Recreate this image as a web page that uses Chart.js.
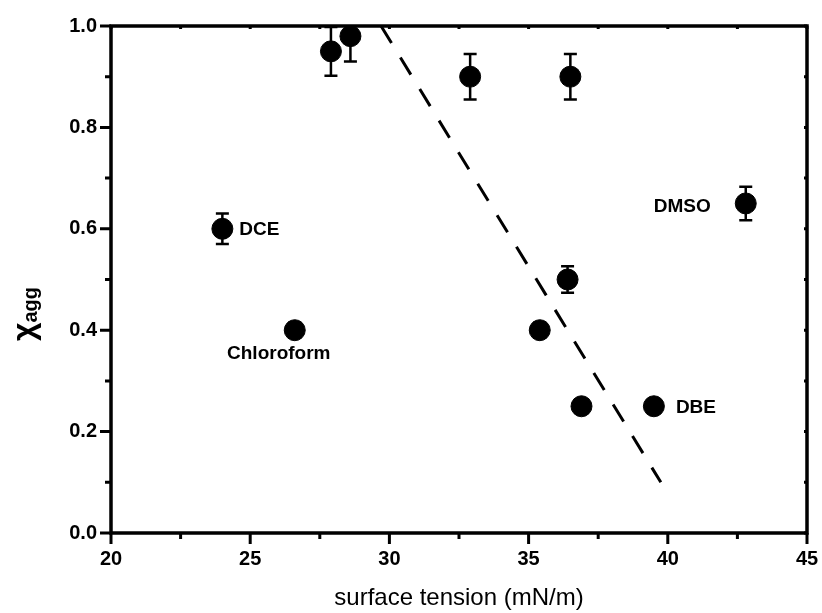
<!DOCTYPE html>
<html>
<head>
<meta charset="utf-8">
<script src="https://cdn.jsdelivr.net/npm/chart.js@4"></script>
<style>
  body { margin: 0; background: #fff; }
  #wrap { width: 822px; height: 613px; }
</style>
</head>
<body>
<div id="wrap"><canvas id="myChart"></canvas></div>
<script>
// measured points: surface tension vs chi_agg
const tension = [24.0, 26.6, 27.9, 28.6, 32.9, 36.5, 36.4, 35.4, 36.9, 39.5, 42.8];
const chiAgg = [0.60, 0.40, 0.95, 0.98, 0.90, 0.90, 0.50, 0.40, 0.25, 0.25, 0.65];
const chiErr = [0.03, 0.015, 0.048, 0.05, 0.045, 0.045, 0.026, 0.015, 0.008, 0.008, 0.033];
const solvent = ['DCE', 'Chloroform', '', '', '', '', '', '', '', 'DBE', 'DMSO'];

// dashed guide line
const guideX = [29.7, 39.75];
const guideY = [1.0, 0.1];

const xTickLabels = [20, 25, 30, 35, 40, 45];
const yTickLabels = ['0.0', '0.2', '0.4', '0.6', '0.8', '1.0'];

const font = "'Liberation Sans', Arial, sans-serif";

// label placement (pixel offsets from the marker)
const labelPos = {
    'DCE': { dx: 17, dy: 1, align: 'left' },
    'Chloroform': { dx: -16, dy: 24, align: 'center' },
    'DBE': { dx: 22, dy: 2, align: 'left' },
    'DMSO': { dx: -35, dy: 3, align: 'right' }
};

const framePlugin = {
    id: 'frame',
    afterDatasetsDraw(chart) {
        const ctx = chart.ctx;
        const area = chart.chartArea;
        const ys = chart.scales.y;
        const meta = chart.getDatasetMeta(0);

        // error bars
        ctx.save();
        ctx.beginPath();
        ctx.rect(area.left, area.top - 1, area.right - area.left, area.bottom - area.top + 1);
        ctx.clip();
        ctx.strokeStyle = '#000';
        ctx.lineWidth = 2.5;
        meta.data.forEach((pt, i) => {
            const yTop = ys.getPixelForValue(chiAgg[i] + chiErr[i]);
            const yBot = ys.getPixelForValue(chiAgg[i] - chiErr[i]);
            ctx.beginPath();
            ctx.moveTo(pt.x, yTop);
            ctx.lineTo(pt.x, yBot);
            ctx.moveTo(pt.x - 6.5, yTop);
            ctx.lineTo(pt.x + 6.5, yTop);
            ctx.moveTo(pt.x - 6.5, yBot);
            ctx.lineTo(pt.x + 6.5, yBot);
            ctx.stroke();
        });
        ctx.restore();

        // solvent labels
        ctx.save();
        ctx.fillStyle = '#000';
        ctx.font = 'bold 19px ' + font;
        ctx.textBaseline = 'middle';
        meta.data.forEach((pt, i) => {
            const name = solvent[i];
            if (!name) return;
            const p = labelPos[name];
            ctx.textAlign = p.align;
            ctx.fillText(name, pt.x + p.dx, pt.y + p.dy);
        });
        ctx.restore();
    },
    afterDraw(chart) {
        const ctx = chart.ctx;
        const area = chart.chartArea;
        const xs = chart.scales.x;
        const ys = chart.scales.y;
        ctx.save();
        ctx.strokeStyle = '#000';
        ctx.lineWidth = 3.5;
        ctx.lineCap = 'square';
        ctx.beginPath();
        ctx.moveTo(area.left, area.top);
        ctx.lineTo(area.right, area.top);
        ctx.lineTo(area.right, area.bottom);
        ctx.moveTo(area.left, area.top);
        ctx.lineTo(area.left, area.bottom);
        ctx.lineTo(area.right, area.bottom);
        ctx.stroke();

        // outward ticks, major longer than minor
        ctx.lineCap = 'butt';
        ctx.lineWidth = 3;
        ctx.beginPath();
        xs.ticks.forEach(t => {
            const px = xs.getPixelForValue(t.value);
            const major = Math.abs(t.value / 5 - Math.round(t.value / 5)) < 1e-6;
            ctx.moveTo(px, area.bottom);
            ctx.lineTo(px, area.bottom + (major ? 11 : 6));
            ctx.moveTo(px, area.top);
            ctx.lineTo(px, area.top + 3);
        });
        ys.ticks.forEach(t => {
            const py = ys.getPixelForValue(t.value);
            const major = Math.round(t.value * 10) % 2 === 0;
            ctx.moveTo(area.left, py);
            ctx.lineTo(area.left - (major ? 11 : 6), py);
            ctx.moveTo(area.right, py);
            ctx.lineTo(area.right - 3, py);
        });
        ctx.stroke();

        // y title: chi with subscript agg
        ctx.fillStyle = '#000';
        ctx.translate(34, 341);
        ctx.rotate(-Math.PI / 2);
        ctx.textAlign = 'left';
        ctx.textBaseline = 'alphabetic';
        ctx.font = 'bold 32px ' + font;
        ctx.fillText('χ', 0, 0);
        const w = ctx.measureText('χ').width;
        ctx.font = 'bold 20px ' + font;
        ctx.fillText('agg', w, 3);
        ctx.restore();
    }
};

const ctx = document.getElementById('myChart').getContext('2d');
const myChart = new Chart(ctx, {
    type: 'scatter',
    data: {
        datasets: [{
            label: 'chi_agg',
            data: tension.map((x, i) => ({ x: x, y: chiAgg[i] })),
            backgroundColor: '#000',
            borderColor: '#000',
            pointRadius: 10.5,
            pointHoverRadius: 10.5,
            order: 1
        }, {
            label: 'guide',
            data: guideX.map((x, i) => ({ x: x, y: guideY[i] })),
            showLine: true,
            borderColor: '#000',
            borderWidth: 3,
            borderDash: [20, 17],
            pointRadius: 0,
            fill: false,
            clip: false,
            order: 2
        }]
    },
    options: {
        responsive: true,
        maintainAspectRatio: false,
        animation: false,
        layout: {
            padding: { top: 24, right: 15, left: 0, bottom: 0 }
        },
        scales: {
            x: {
                type: 'linear',
                min: 20,
                max: 45,
                afterFit: s => { s.height = 80; s.paddingRight = 15; s.paddingLeft = 0; },
                ticks: {
                    stepSize: 2.5,
                    color: '#000',
                    padding: 14,
                    maxRotation: 0,
                    autoSkip: false,
                    font: { family: font, size: 20, weight: 'bold' },
                    callback: function(value) {
                        return xTickLabels.includes(value) ? String(value) : '';
                    }
                },
                grid: { display: true, drawOnChartArea: false, drawTicks: false },
                border: { display: false },
                title: {
                    display: true,
                    text: 'surface tension (mN/m)',
                    color: '#000',
                    font: { family: font, size: 24 },
                    padding: { top: 6, bottom: 0 }
                }
            },
            y: {
                min: 0,
                max: 1.0,
                afterFit: s => { s.width = 111; },
                ticks: {
                    stepSize: 0.1,
                    color: '#000',
                    padding: 14,
                    autoSkip: false,
                    font: { family: font, size: 20, weight: 'bold' },
                    callback: function(value) {
                        const k = Math.round(value * 10);
                        return k % 2 === 0 ? yTickLabels[k / 2] : '';
                    }
                },
                grid: { display: true, drawOnChartArea: false, drawTicks: false },
                border: { display: false }
            }
        },
        plugins: {
            legend: { display: false },
            tooltip: { enabled: false }
        }
    },
    plugins: [framePlugin]
});
</script>
</body>
</html>
